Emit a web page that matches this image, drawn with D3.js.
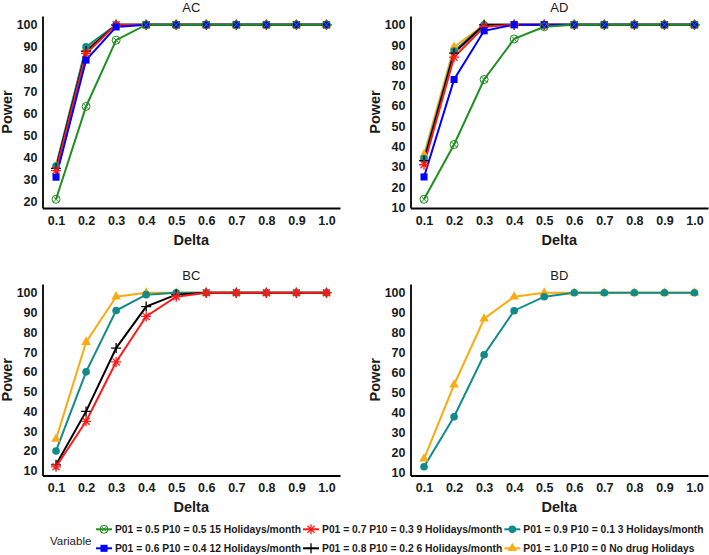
<!DOCTYPE html>
<html>
<head>
<meta charset="utf-8">
<script src="https://cdn.jsdelivr.net/npm/d3@7"></script>
<style>
  body { margin: 0; background: #fff; }
  svg { display: block; font-family: "Liberation Sans", Arial, sans-serif; }
  .axis path { stroke: #000; stroke-width: 1.8; }
  .axis text { font-size: 12.5px; font-weight: bold; fill: #1a1a1a; }
</style>
</head>
<body>
<script>
// ---- data ----
const deltas = [0.1, 0.2, 0.3, 0.4, 0.5, 0.6, 0.7, 0.8, 0.9, 1.0];

const seriesLabels = [
  'P01 = 0.5 P10 = 0.5 15 Holidays/month',
  'P01 = 0.6 P10 = 0.4 12 Holidays/month',
  'P01 = 0.7 P10 = 0.3 9 Holidays/month',
  'P01 = 0.8 P10 = 0.2 6 Holidays/month',
  'P01 = 0.9 P10 = 0.1 3 Holidays/month',
  'P01 = 1.0 P10 = 0 No drug Holidays'
];
const seriesColors = ['#1f8f1f', '#0000ff', '#ff1a1a', '#000000', '#108a8a', '#f8ac12'];
const seriesShapes = ['circlecross', 'square', 'asterisk', 'plus', 'circle', 'triangle'];

// one row per series (same order as seriesLabels), null when absent
const powerAC = [
  [21, 63, 93, 100, 100, 100, 100, 100, 100, 100],
  [31, 84, 99, 100, 100, 100, 100, 100, 100, 100],
  [34, 87, 100, 100, 100, 100, 100, 100, 100, 100],
  [35, 88, 100, 100, 100, 100, 100, 100, 100, 100],
  [36, 90, 100, 100, 100, 100, 100, 100, 100, 100],
  [36, 89, 100, 100, 100, 100, 100, 100, 100, 100]
];
const powerAD = [
  [14, 41, 73, 93, 99, 100, 100, 100, 100, 100],
  [25, 73, 97, 100, 100, 100, 100, 100, 100, 100],
  [31, 84, 99, 100, 100, 100, 100, 100, 100, 100],
  [33, 86, 100, 100, 100, 100, 100, 100, 100, 100],
  [34, 87, 100, 100, 100, 100, 100, 100, 100, 100],
  [36, 89, 100, 100, 100, 100, 100, 100, 100, 100]
];
const powerBC = [
  null,
  null,
  [12, 35, 65, 88, 98, 100, 100, 100, 100, 100],
  [13, 40, 72, 93, 99, 100, 100, 100, 100, 100],
  [20, 60, 91, 99, 100, 100, 100, 100, 100, 100],
  [26, 75, 98, 100, 100, 100, 100, 100, 100, 100]
];
const powerBD = [
  null,
  null,
  null,
  null,
  [13, 38, 69, 91, 98, 100, 100, 100, 100, 100],
  [17, 54, 87, 98, 100, 100, 100, 100, 100, 100]
];

const panelNames = ['AC', 'AD', 'BC', 'BD'];
const panelData = [powerAC, powerAD, powerBC, powerBD];

// ---- layout ----
const W = 709, H = 555;
const panelW = 297.5;
const colLeft = [42.5, 410.5];
const rowTop = [16, 284];
const rowBottom = [208, 475.5];
const drawOrder = [5, 4, 3, 2, 1, 0];

const svg = d3.select('body').append('svg').attr('width', W).attr('height', H);

function markerPath(kind) {
  if (kind === 'circle') return d3.symbol(d3.symbolCircle, 46)();
  if (kind === 'square') return d3.symbol(d3.symbolSquare, 50)();
  if (kind === 'triangle') return d3.symbol(d3.symbolTriangle, 40)();
  if (kind === 'plus') return 'M-5,0L5,0M0,-5L0,5';
  if (kind === 'asterisk') {
    const r = 5, a = r * Math.SQRT1_2;
    return `M-${r},0L${r},0M0,-${r}L0,${r}M-${a},-${a}L${a},${a}M-${a},${a}L${a},-${a}`;
  }
  // circle with a cross inside
  const r = 4, a = r * Math.SQRT1_2;
  return `M${r},0A${r},${r} 0 1 1 -${r},0A${r},${r} 0 1 1 ${r},0Z` +
    `M-${a},-${a}L${a},${a}M-${a},${a}L${a},-${a}`;
}

function styleMarker(sel, i) {
  const filled = ['circle', 'square', 'triangle'].includes(seriesShapes[i]);
  sel.attr('d', markerPath(seriesShapes[i]))
    .attr('fill', filled ? seriesColors[i] : 'none')
    .attr('stroke', seriesColors[i])
    .attr('stroke-width', filled ? 0 : (seriesShapes[i] === 'circlecross' ? 1 : 1.3));
}

panelData.forEach((rows, p) => {
  const left = colLeft[p % 2];
  const top = rowTop[Math.floor(p / 2)];
  const bottom = rowBottom[Math.floor(p / 2)];

  const vals = rows.filter(r => r).flat();
  const [lo, hi] = d3.extent(vals);
  const pad = (hi - lo) * 0.05;

  const x = d3.scaleLinear().domain([0.055, 1.045]).range([left, left + panelW]);
  const y = d3.scaleLinear().domain([lo - pad, hi + pad]).range([bottom, top]);

  const g = svg.append('g');

  g.append('text')
    .attr('x', left + panelW / 2)
    .attr('y', top - 4.5)
    .attr('text-anchor', 'middle')
    .style('font-size', '13px')
    .style('fill', '#1a1a1a')
    .text(panelNames[p]);

  const line = d3.line().x((d, k) => x(deltas[k])).y(d => y(d));

  drawOrder.forEach(i => {
    if (!rows[i]) return;
    g.append('path')
      .datum(rows[i])
      .attr('d', line)
      .attr('fill', 'none')
      .attr('stroke', seriesColors[i])
      .attr('stroke-width', 2);
  });

  drawOrder.forEach(i => {
    if (!rows[i]) return;
    g.selectAll(null)
      .data(rows[i])
      .join('path')
      .attr('transform', (d, k) => `translate(${x(deltas[k])},${y(d)})`)
      .call(styleMarker, i);
  });

  const axisX = d3.axisBottom(x)
    .tickValues(deltas)
    .tickFormat(d3.format('.1f'))
    .tickSize(0)
    .tickPadding(8);
  g.append('g').attr('class', 'axis')
    .attr('transform', `translate(0,${bottom})`)
    .call(axisX);

  const yTicks = d3.range(10, 101, 10).filter(v => v >= lo - pad);
  const axisY = d3.axisLeft(y)
    .tickValues(yTicks)
    .tickFormat(d3.format('d'))
    .tickSize(0)
    .tickPadding(5);
  g.append('g').attr('class', 'axis')
    .attr('transform', `translate(${left},0)`)
    .call(axisY);

  g.append('text')
    .attr('x', left + panelW / 2)
    .attr('y', bottom + 36.5)
    .attr('text-anchor', 'middle')
    .style('font-size', '14.5px')
    .style('font-weight', 'bold')
    .style('fill', '#1a1a1a')
    .text('Delta');

  g.append('text')
    .attr('transform', `translate(${left - 30.5},${(top + bottom) / 2}) rotate(-90)`)
    .attr('text-anchor', 'middle')
    .style('font-size', '14.5px')
    .style('font-weight', 'bold')
    .style('fill', '#1a1a1a')
    .text('Power');
});

// ---- legend ----
const legend = svg.append('g');
legend.append('text')
  .attr('x', 50)
  .attr('y', 545)
  .style('font-size', '11.5px')
  .style('fill', '#1a1a1a')
  .text('Variable');

const rowY = [529.3, 548.3];
let colX = 96;
[[0, 1], [2, 3], [4, 5]].forEach(col => {
  let maxW = 0;
  col.forEach((i, r) => {
    const item = legend.append('g').attr('transform', `translate(${colX},${rowY[r]})`);
    item.append('line')
      .attr('x1', 0).attr('x2', 16)
      .attr('stroke', seriesColors[i])
      .attr('stroke-width', 2);
    item.append('path')
      .attr('transform', 'translate(8,0)')
      .call(styleMarker, i);
    const t = item.append('text')
      .attr('x', 19)
      .attr('dy', '0.36em')
      .style('font-size', '10.3px')
      .style('font-weight', 'bold')
      .style('fill', '#1a1a1a')
      .text(seriesLabels[i]);
    maxW = Math.max(maxW, t.node().getComputedTextLength());
  });
  colX += 19 + maxW + 2;
});
</script>
</body>
</html>
